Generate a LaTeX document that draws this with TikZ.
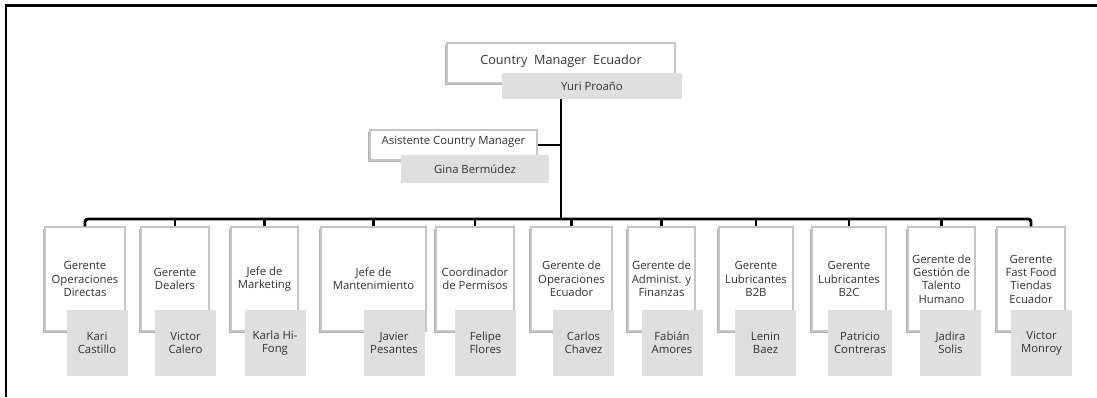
\documentclass[tikz,border=0pt]{standalone}
\usepackage{fontspec}
\setmainfont{Open Sans}
\usetikzlibrary{shadows}

\tikzset{
  puesto/.style={draw=gray!45, line width=0.9pt, fill=white, align=center, inner sep=1pt,
    text=black!80, font=\fontsize{8.5}{10}\selectfont,
    drop shadow={shadow xshift=-1.2pt, shadow yshift=-1.2pt, fill=gray!60, opacity=1}},
  nombre/.style={fill=gray!25, align=center, inner sep=1pt, text=black!80,
    font=\fontsize{8.5}{10}\selectfont},
  cargo/.style={puesto, minimum height=78pt},
  persona/.style={nombre, minimum width=45.75pt, minimum height=49.5pt},
  tronco/.style={line width=2.2pt},
  rama/.style={line width=1.6pt}
}

\begin{document}
\begin{tikzpicture}[x=0.75pt,y=-0.75pt]
  \useasboundingbox (0,0) rectangle (1097,397);
  % marco
  \draw[line width=1.6pt] (6,397) -- (6,5.5) -- (1097,5.5);

  % gerencia
  \node[puesto, minimum width=171pt, minimum height=30pt, font=\fontsize{9.5}{11}\selectfont] (ceo) at (561,63) {};
  \node[text=black!80, font=\fontsize{9.5}{11}\selectfont] (ceotxt) at (561,61) {Country\ \ Manager\ \ Ecuador};
  \node[nombre, minimum width=135pt, minimum height=19.5pt] (yuri) at (592,86) {Yuri Proaño};

  \node[puesto, minimum width=125.25pt, minimum height=22.5pt] (asis) at (453.5,145) {};
  \node[text=black!80, font=\fontsize{8.5}{10}\selectfont] (asistxt) at (453.5,142) {Asistente Country Manager};
  \node[nombre, minimum width=111pt, minimum height=21pt] (gina) at (475,169) {Gina Bermúdez};

  \coordinate (bus) at (561,219);

  % cargos
  \node[cargo, minimum width=60pt] (opdir) at (85,279) {Gerente\\Operaciones\\Directas};
  \node[cargo, minimum width=51pt] (dealers) at (175,279) {Gerente\\Dealers};
  \node[cargo, minimum width=50.25pt] (mkt) at (264.5,279) {Jefe de\\Marketing};
  \node[cargo, minimum width=78.75pt] (mant) at (373.5,279) {Jefe de\\Mantenimiento};
  \node[cargo, minimum width=58.5pt] (perm) at (475,279) {Coordinador\\de Permisos};
  \node[cargo, minimum width=60.75pt] (opec) at (571.5,279) {Gerente de\\Operaciones\\Ecuador};
  \node[cargo, minimum width=50.25pt] (admin) at (661.5,279) {Gerente de\\Administ. y\\Finanzas};
  \node[cargo, minimum width=55.5pt] (btb) at (756,279) {Gerente\\Lubricantes\\B2B};
  \node[cargo, minimum width=55.5pt] (btc) at (849,279) {Gerente\\Lubricantes\\B2C};
  \node[cargo, minimum width=50.25pt] (talento) at (941.5,279) {Gerente de\\Gestión de\\Talento\\Humano};
  \node[cargo, minimum width=51pt] (fastfood) at (1031,279) {Gerente\\Fast Food\\Tiendas\\Ecuador};

  % personas
  \node[persona] (kari) at (97,343) {Kari\\Castillo};
  \node[persona] (vcalero) at (185.5,343) {Victor\\Calero};
  \node[persona] (karla) at (275,343) {Karla Hi-\\Fong};
  \node[persona] (javier) at (394,343) {Javier\\Pesantes};
  \node[persona] (felipe) at (485.5,343) {Felipe\\Flores};
  \node[persona] (carlos) at (583.5,343) {Carlos\\Chavez};
  \node[persona] (fabian) at (672,343) {Fabián\\Amores};
  \node[persona] (lenin) at (765.5,343) {Lenin\\Baez};
  \node[persona, minimum width=48pt] (patricio) at (860,343) {Patricio\\Contreras};
  \node[persona] (jadira) at (950.5,343) {Jadira\\Solis};
  \node[persona] (vmonroy) at (1041.5,343) {Victor\\Monroy};

  % lineas
  \draw[tronco] (ceo.center |- yuri.south) -- (bus);
  \draw[tronco] (asis.east) -- (ceo.center |- asis.east);
  \draw[tronco, rounded corners=2pt] (opdir.north) |- (fastfood.north |- bus) -- (fastfood.north);
  \foreach \p in {dealers,mkt,mant,perm,opec,admin,btb,btc,talento}
    \draw[rama] (\p.north) -- (\p.north |- bus);
\end{tikzpicture}
\end{document}
